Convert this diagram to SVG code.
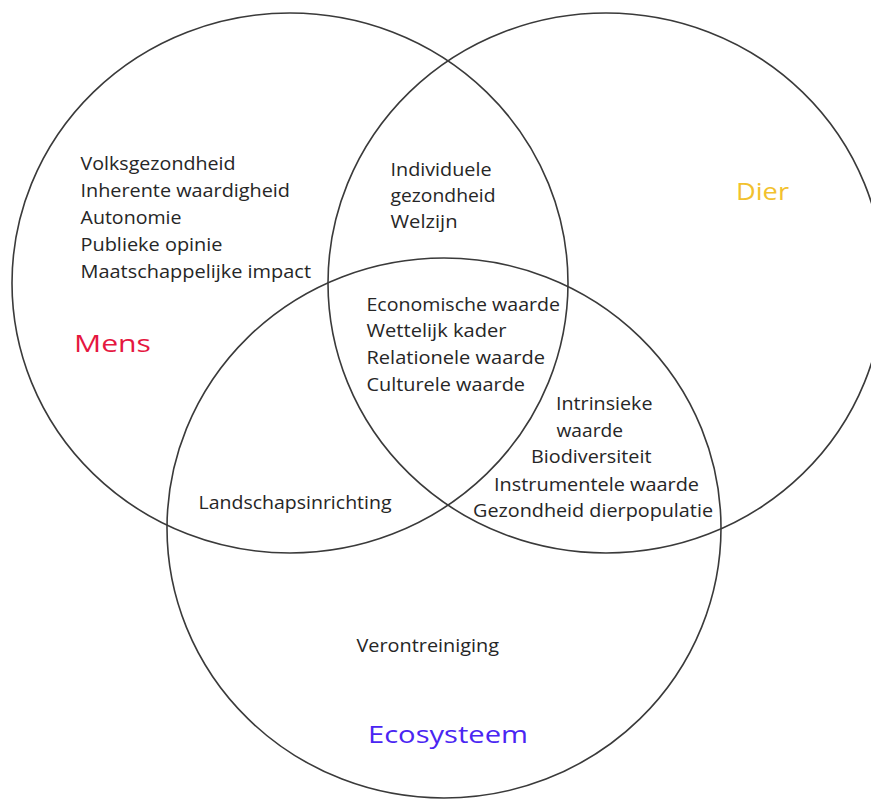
<svg xmlns="http://www.w3.org/2000/svg" width="871" height="799" viewBox="0 0 871 799">
  <style>
    .ring { fill: none; stroke: #3a3a3a; stroke-width: 1.6; }
    .t { font-family: "Open Sans", "Liberation Sans", sans-serif; font-size: 18px; fill: #262626; }
    .big { font-family: "Open Sans", "Liberation Sans", sans-serif; font-size: 23px; }
  </style>
  <rect x="0" y="0" width="871" height="799" fill="#ffffff"/>
  <g id="mens">
    <ellipse class="ring" cx="290" cy="283" rx="278" ry="270"/>
    <text class="big" x="74" y="351.5" fill="#E5173F" textLength="77" lengthAdjust="spacingAndGlyphs">Mens</text>
    <text class="t" x="80.5" y="170" textLength="155" lengthAdjust="spacingAndGlyphs">Volksgezondheid</text>
    <text class="t" x="80.5" y="197" textLength="209.5" lengthAdjust="spacingAndGlyphs">Inherente waardigheid</text>
    <text class="t" x="80.5" y="224" textLength="101" lengthAdjust="spacingAndGlyphs">Autonomie</text>
    <text class="t" x="80.5" y="251" textLength="142" lengthAdjust="spacingAndGlyphs">Publieke opinie</text>
    <text class="t" x="80.5" y="278" textLength="230.5" lengthAdjust="spacingAndGlyphs">Maatschappelijke impact</text>
  </g>
  <g id="dier">
    <ellipse class="ring" cx="606" cy="283" rx="278" ry="270"/>
    <text class="big" x="736" y="199.5" fill="#F2C12E" textLength="53" lengthAdjust="spacingAndGlyphs">Dier</text>
  </g>
  <g id="ecosysteem">
    <ellipse class="ring" cx="444" cy="528" rx="277" ry="270"/>
    <text class="big" x="368" y="742.5" fill="#4A25F2" textLength="160" lengthAdjust="spacingAndGlyphs">Ecosysteem</text>
    <text class="t" x="356.5" y="651.5" textLength="142.5" lengthAdjust="spacingAndGlyphs">Verontreiniging</text>
  </g>
  <g id="mens-dier">
    <text class="t" x="390.5" y="176" textLength="101" lengthAdjust="spacingAndGlyphs">Individuele</text>
    <text class="t" x="390.5" y="202" textLength="105" lengthAdjust="spacingAndGlyphs">gezondheid</text>
    <text class="t" x="390.5" y="228" textLength="67" lengthAdjust="spacingAndGlyphs">Welzijn</text>
  </g>
  <g id="centrum">
    <text class="t" x="366.5" y="311" textLength="193.5" lengthAdjust="spacingAndGlyphs">Economische waarde</text>
    <text class="t" x="366.5" y="337" textLength="140" lengthAdjust="spacingAndGlyphs">Wettelijk kader</text>
    <text class="t" x="366.5" y="363.5" textLength="178.5" lengthAdjust="spacingAndGlyphs">Relationele waarde</text>
    <text class="t" x="366.5" y="390.5" textLength="158.5" lengthAdjust="spacingAndGlyphs">Culturele waarde</text>
  </g>
  <g id="dier-ecosysteem">
    <text class="t" x="556" y="410" textLength="96.5" lengthAdjust="spacingAndGlyphs">Intrinsieke</text>
    <text class="t" x="556.5" y="436.5" textLength="66.5" lengthAdjust="spacingAndGlyphs">waarde</text>
    <text class="t" x="531" y="463" textLength="120.5" lengthAdjust="spacingAndGlyphs">Biodiversiteit</text>
    <text class="t" x="494" y="490.5" textLength="205" lengthAdjust="spacingAndGlyphs">Instrumentele waarde</text>
    <text class="t" x="473" y="516.5" textLength="240" lengthAdjust="spacingAndGlyphs">Gezondheid dierpopulatie</text>
  </g>
  <g id="mens-ecosysteem">
    <text class="t" x="198.5" y="509" textLength="193" lengthAdjust="spacingAndGlyphs">Landschapsinrichting</text>
  </g>
</svg>
